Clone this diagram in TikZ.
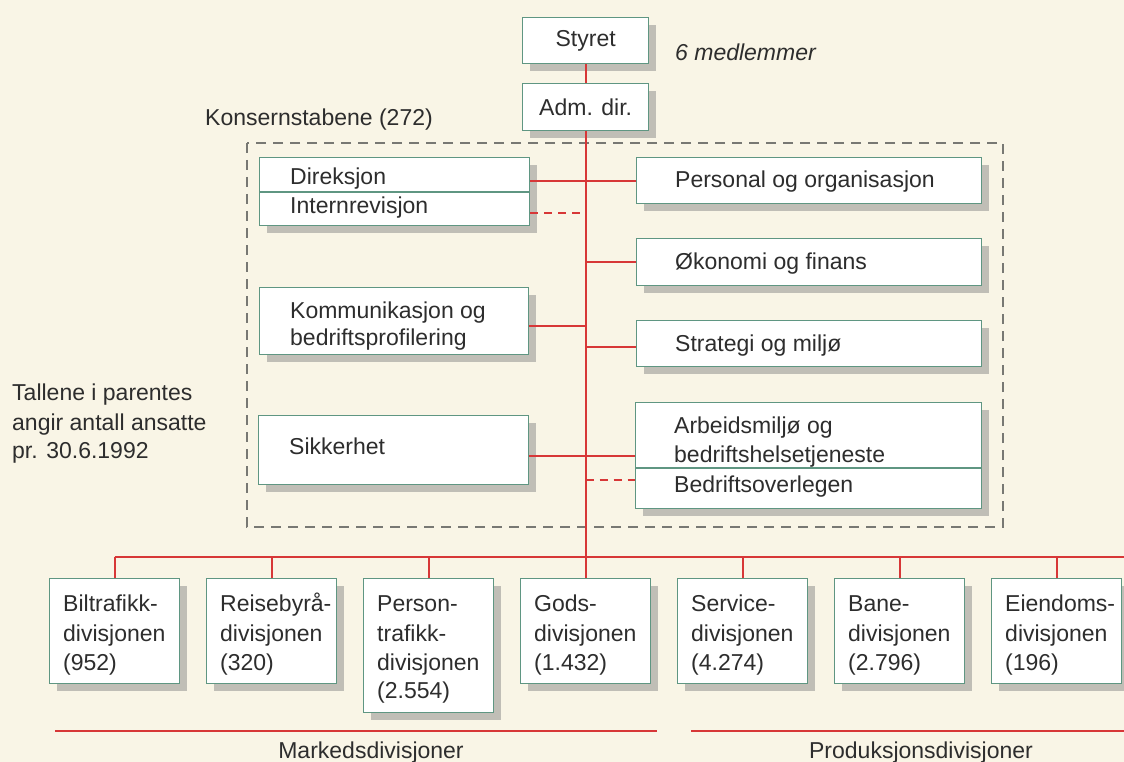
\documentclass[tikz,border=0pt]{standalone}
\usepackage{fontspec}
\setmainfont{Liberation Sans}
\usetikzlibrary{shadows,calc}
\definecolor{bgc}{RGB}{249,245,230}
\definecolor{boxc}{RGB}{95,150,130}
\definecolor{shad}{RGB}{192,190,182}
\definecolor{redc}{RGB}{215,55,55}
\definecolor{dashc}{RGB}{120,120,115}
\definecolor{txtc}{RGB}{45,45,45}
\newcommand{\txtfont}{\fontsize{23}{29}\selectfont}
\begin{document}
\begin{tikzpicture}[x=1pt,y=-1pt,
  box/.style={draw=boxc, line width=1.3pt, fill=white, inner sep=0pt, anchor=north west,
    text=txtc, font=\txtfont,
    drop shadow={shadow xshift=7pt, shadow yshift=-7pt, fill=shad, opacity=1}},
  lbl/.style={anchor=base west, inner sep=0pt, text=txtc, font=\txtfont},
  clbl/.style={anchor=base, inner sep=0pt, text=txtc, font=\txtfont},
  conn/.style={draw=redc, line width=1.8pt},
  conndash/.style={conn, dash pattern=on 8pt off 6pt},
  frame/.style={draw=dashc, line width=1.5pt, dash pattern=on 10pt off 7pt},
  divider/.style={draw=boxc, line width=1.3pt}]
% background and bounding box
\fill[bgc] (0,0) rectangle (1124,762);
\useasboundingbox (0,0) rectangle (1124,762);

% dashed frame for Konsernstabene
\draw[frame] (247,143) rectangle (1003,527);

% top boxes
\node[box, minimum width=126pt, minimum height=46pt] (sty) at (522,17) {Styret};
\node[box, minimum width=126pt, minimum height=47pt] (adm) at (522,83) {Adm. dir.};
\node[lbl, font=\txtfont\itshape] (med) at (675,61) {6 medlemmer};
\node[lbl] (kon) at (205,126) {Konsernstabene (272)};

% left staff column
\node[box, minimum width=270pt, minimum height=68pt] (dir) at (259,157) {};
\draw[divider] (259,192) -- (529,192);
\node[lbl] (dirt) at (290,185) {Direksjon};
\node[lbl] (irt) at (290,214) {Internrevisjon};

\node[box, minimum width=269pt, minimum height=67pt] (kom) at (259,287) {};
\node[lbl] (komt1) at (290,318) {Kommunikasjon og};
\node[lbl] (komt2) at (290,345) {bedriftsprofilering};

\node[box, minimum width=270pt, minimum height=69pt] (sik) at (258,415) {};
\node[lbl] (sikt) at (289,454) {Sikkerhet};

% right staff column
\node[box, minimum width=345pt, minimum height=46pt] (pers) at (636,157) {};
\node[lbl] (perst) at (675,188) {Personal og organisasjon};

\node[box, minimum width=345pt, minimum height=47pt] (oek) at (636,238) {};
\node[lbl] (oekt) at (675,269) {Økonomi og finans};

\node[box, minimum width=345pt, minimum height=46pt] (str) at (636,320) {};
\node[lbl] (strt) at (675,351) {Strategi og miljø};

\node[box, minimum width=346pt, minimum height=106pt] (arb) at (635,402) {};
\draw[divider] (635,468) -- (981,468);
\node[lbl] (arbt1) at (674,433) {Arbeidsmiljø og};
\node[lbl] (arbt2) at (674,462) {bedriftshelsetjeneste};
\node[lbl] (arbt3) at (674,492) {Bedriftsoverlegen};

% left note
\node[lbl] (tal1) at (12,400) {Tallene i parentes};
\node[lbl] (tal2) at (12,430) {angir antall ansatte};
\node[lbl] (tal3) at (12,458) {pr. 30.6.1992};

% divisions
\node[box, minimum width=130pt, minimum height=105pt] (bil) at (49,578) {};
\node[box, minimum width=130pt, minimum height=105pt] (rei) at (206,578) {};
\node[box, minimum width=130pt, minimum height=134pt] (per) at (363,578) {};
\node[box, minimum width=130pt, minimum height=105pt] (gods) at (520,578) {};
\node[box, minimum width=130pt, minimum height=105pt] (ser) at (677,578) {};
\node[box, minimum width=130pt, minimum height=105pt] (ban) at (834,578) {};
\node[box, minimum width=130pt, minimum height=105pt] (eie) at (991,578) {};

\node[lbl] (bil1) at (63,611) {Biltrafikk-};
\node[lbl] (bil2) at (63,641) {divisjonen};
\node[lbl] (bil3) at (63,670) {(952)};
\node[lbl] (rei1) at (220,611) {Reisebyrå-};
\node[lbl] (rei2) at (220,641) {divisjonen};
\node[lbl] (rei3) at (220,670) {(320)};
\node[lbl] (per1) at (377,611) {Person-};
\node[lbl] (per2) at (377,641) {trafikk-};
\node[lbl] (per3) at (377,670) {divisjonen};
\node[lbl] (per4) at (377,698) {(2.554)};
\node[lbl] (gods1) at (534,611) {Gods-};
\node[lbl] (gods2) at (534,641) {divisjonen};
\node[lbl] (gods3) at (534,670) {(1.432)};
\node[lbl] (ser1) at (691,611) {Service-};
\node[lbl] (ser2) at (691,641) {divisjonen};
\node[lbl] (ser3) at (691,670) {(4.274)};
\node[lbl] (ban1) at (848,611) {Bane-};
\node[lbl] (ban2) at (848,641) {divisjonen};
\node[lbl] (ban3) at (848,670) {(2.796)};
\node[lbl] (eie1) at (1005,611) {Eiendoms-};
\node[lbl] (eie2) at (1005,641) {divisjonen};
\node[lbl] (eie3) at (1005,670) {(196)};

% connectors
\draw[conn] (sty.south) -- (adm.north);
\draw[conn] (adm.south) -- (gods.north);
\draw[conn] (pers.west) -- (pers.west -| dir.east);
\coordinate (irc) at ($(dir.south east)+(0,-13)$);
\draw[conndash] (irc) -- (irc -| adm.south);
\draw[conn] (oek.west) -- (oek.west -| adm.south);
\draw[conn] ($(kom.east)+(0,5)$) -- ($(kom.east -| adm.south)+(0,5)$);
\draw[conn] ($(str.west)+(0,3)$) -- ($(str.west -| adm.south)+(0,3)$);
\draw[conn] (arb.west) -- (arb.west -| sik.east);
\coordinate (boc) at ($(arb.south west)+(0,-29)$);
\draw[conndash] (boc -| adm.south) -- (boc);

\coordinate (bus) at (0,557);
\coordinate (busR) at (1124,557);
\draw[conn] (bil.north |- bus) -- (busR);
\foreach \n in {bil,rei,per,ser,ban,eie}
  \draw[conn] (\n.north) -- (\n.north |- bus);

% group lines
\coordinate (mkL) at (55,731);
\coordinate (mkR) at (657,731);
\coordinate (prL) at (691,731);
\coordinate (prR) at (1124,731);
\draw[conn] (mkL) -- (mkR);
\draw[conn] (prL) -- (prR);
\node[clbl] (mkt) at (371,758) {Markedsdivisjoner};
\node[clbl] (prt) at (921,758) {Produksjonsdivisjoner};
\end{tikzpicture}
\end{document}
